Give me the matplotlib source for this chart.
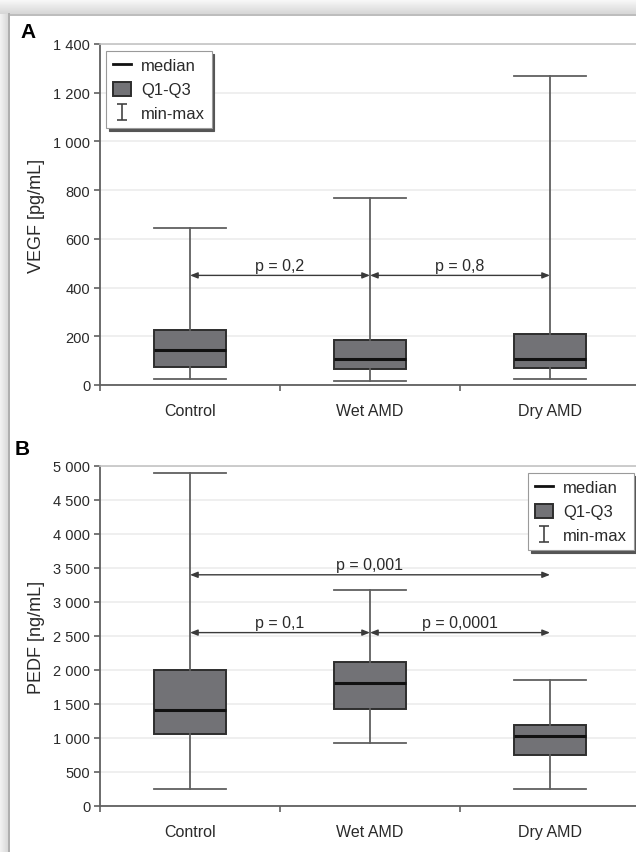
import numpy as np
import matplotlib
matplotlib.use('Agg')
import matplotlib.pyplot as plt
from matplotlib.lines import Line2D
from matplotlib.patches import Patch
from matplotlib.path import Path
from matplotlib.ticker import FuncFormatter

plt.rcParams['font.family'] = ['Liberation Sans', 'DejaVu Sans']

#### ========== Data ==========

groups = ['Control', 'Wet AMD', 'Dry AMD']

vegf_min = [26, 16, 23]
vegf_q1  = [75, 66, 70]
vegf_med = [145, 105, 105]
vegf_q3  = [227, 185, 208]
vegf_max = [646, 767, 1268]

pedf_min = [246, 920, 246]
pedf_q1  = [1057, 1426, 748]
pedf_med = [1411, 1810, 1024]
pedf_q3  = [2001, 2115, 1195]
pedf_max = [4892, 3182, 1850]

# ( from group, to group, y, label )
vegf_pvals = [ (1, 2, 450, 'p = 0,2'), (2, 3, 450, 'p = 0,8') ]
pedf_pvals = [ (1, 3, 3400, 'p = 0,001'),
               (1, 2, 2550, 'p = 0,1'),
               (2, 3, 2550, 'p = 0,0001') ]

#### ==========================

boxFace  = '#727276'
boxEdge  = '#2e2e2e'
lineGray = '#606060'
textCol  = '#2a2a2a'

W, H = 636, 853
fig = plt.figure( figsize = ( W / 100, H / 100 ), dpi = 100 )

# card frame: soft grey strips on the left and on top
axL = fig.add_axes( [0, 0, 8 / W, 1] )
axL.imshow( np.linspace( 0.95, 0.85, 20 )[None, :], cmap = 'gray', vmin = 0, vmax = 1,
            aspect = 'auto', extent = [0, 1, 0, 1] )
axL.axis( 'off' )
axT = fig.add_axes( [0, 1 - 15 / H, 1, 15 / H] )
axT.imshow( np.linspace( 0.84, 0.98, 20 )[:, None], cmap = 'gray', vmin = 0, vmax = 1,
            aspect = 'auto', extent = [0, 1, 0, 1], origin = 'lower' )
axT.axis( 'off' )
fig.lines.append( Line2D( [8.5 / W, 8.5 / W], [0, 1 - 15 / H], transform = fig.transFigure,
                          color = '#a0a0a0', lw = 1.2 ) )
fig.lines.append( Line2D( [8.5 / W, 1], [1 - 15.5 / H, 1 - 15.5 / H], transform = fig.transFigure,
                          color = '#b0b0b0', lw = 1.2 ) )

# I-beam marker for min-max
ibeam = Path( [ (-0.55, -1), (0.55, -1), (0, -1), (0, 1), (-0.55, 1), (0.55, 1) ],
              [ Path.MOVETO, Path.LINETO, Path.MOVETO, Path.LINETO, Path.MOVETO, Path.LINETO ] )


def thousands( v, pos ):
    return '{:,}'.format( int( v ) ).replace( ',', ' ' )


def DrawPanel( ax, vmin, q1, med, q3, vmax, ymax, ystep, pvals, ylabel ):

    stats = []
    for i in range( len( groups ) ):
        stats.append( dict( med = med[i], q1 = q1[i], q3 = q3[i],
                            whislo = vmin[i], whishi = vmax[i],
                            fliers = [], label = groups[i] ) )

    ax.bxp( stats, positions = [1, 2, 3], widths = 0.4, capwidths = 0.4,
            showfliers = False, patch_artist = True,
            boxprops = dict( facecolor = boxFace, edgecolor = boxEdge, lw = 1.4 ),
            medianprops = dict( color = '#111111', lw = 2.2 ),
            whiskerprops = dict( color = lineGray, lw = 1.3 ),
            capprops = dict( color = lineGray, lw = 1.3 ) )

    for x0, x1, y, label in pvals:
        ax.annotate( '', xy = ( x1, y ), xytext = ( x0, y ),
                     arrowprops = dict( arrowstyle = '<|-|>,head_length=0.45,head_width=0.18',
                                        color = '#3a3a3a', lw = 1.0,
                                        shrinkA = 0, shrinkB = 0 ) )
        ax.annotate( label, xy = ( 0.5 * ( x0 + x1 ), y ), xytext = ( 0, 2 ),
                     textcoords = 'offset points', ha = 'center', va = 'bottom',
                     fontsize = 11.5, color = textCol )

    ax.set_xlim( 0.5, 3.5 )
    ax.set_ylim( 0, ymax )
    ax.set_yticks( np.arange( 0, ymax + 1, ystep ) )
    ax.yaxis.set_major_formatter( FuncFormatter( thousands ) )
    ax.set_xticks( [1, 2, 3] )
    ax.set_xticklabels( groups )
    ax.set_xticks( [0.5, 1.5, 2.5], minor = True )
    ax.tick_params( axis = 'x', which = 'major', length = 0, pad = 13,
                    labelsize = 11.5, labelcolor = textCol )
    ax.tick_params( axis = 'x', which = 'minor', length = 4, width = 1.2,
                    color = lineGray, direction = 'out' )
    ax.tick_params( axis = 'y', length = 4, width = 1.2, color = lineGray,
                    labelsize = 10.5, labelcolor = textCol, pad = 3 )

    ax.grid( axis = 'y', color = '#ececec', lw = 1.2 )
    ax.set_axisbelow( True )
    for s in ['left', 'bottom']:
        ax.spines[s].set_color( lineGray )
        ax.spines[s].set_linewidth( 1.3 )
    ax.spines['top'].set_color( '#c4c4c4' )
    ax.spines['top'].set_linewidth( 1.2 )
    ax.spines['right'].set_visible( False )

    ax.set_ylabel( ylabel, fontsize = 13, color = textCol, labelpad = 6 )


def AddLegend( ax, loc, anchor ):
    handles = [ Line2D( [], [], color = '#111111', lw = 2 ),
                Patch( facecolor = boxFace, edgecolor = boxEdge, lw = 1.4 ),
                Line2D( [], [], marker = ibeam, markersize = 12, linestyle = 'none',
                        color = '#444444', markeredgewidth = 1.2 ) ]
    leg = ax.legend( handles, ['median', 'Q1-Q3', 'min-max'], loc = loc,
                     bbox_to_anchor = anchor, borderaxespad = 0, fontsize = 12,
                     fancybox = False, shadow = { 'ox': 2, 'oy': -2, 'color': '#555555', 'alpha': 1 },
                     framealpha = 1, edgecolor = '#9a9a9a', handlelength = 1.1,
                     handleheight = 0.9, handletextpad = 0.6, labelspacing = 0.5,
                     borderpad = 0.4 )
    for t in leg.get_texts():
        t.set_color( textCol )
    leg.get_frame().set_linewidth( 0.8 )


# axes extend past the right edge of the picture, as in the reference
axA = fig.add_axes( [100 / W, 1 - 386 / H, 540 / W, 341 / H] )
DrawPanel( axA, vegf_min, vegf_q1, vegf_med, vegf_q3, vegf_max,
           1400, 200, vegf_pvals, 'VEGF [pg/mL]' )
AddLegend( axA, 'upper left', ( 6 / 540, 1 - 7 / 341 ) )

axB = fig.add_axes( [100 / W, 1 - 807 / H, 540 / W, 340 / H] )
DrawPanel( axB, pedf_min, pedf_q1, pedf_med, pedf_q3, pedf_max,
           5000, 500, pedf_pvals, 'PEDF [ng/mL]' )
AddLegend( axB, 'upper right', ( 534 / 540, 1 - 7 / 340 ) )

fig.text( 28 / W, 1 - 32 / H, 'A', fontsize = 15, fontweight = 'bold',
          ha = 'center', va = 'center' )
fig.text( 22 / W, 1 - 450 / H, 'B', fontsize = 15, fontweight = 'bold',
          ha = 'center', va = 'center' )

plt.savefig( 'out.png', dpi = 100 )
plt.close()
